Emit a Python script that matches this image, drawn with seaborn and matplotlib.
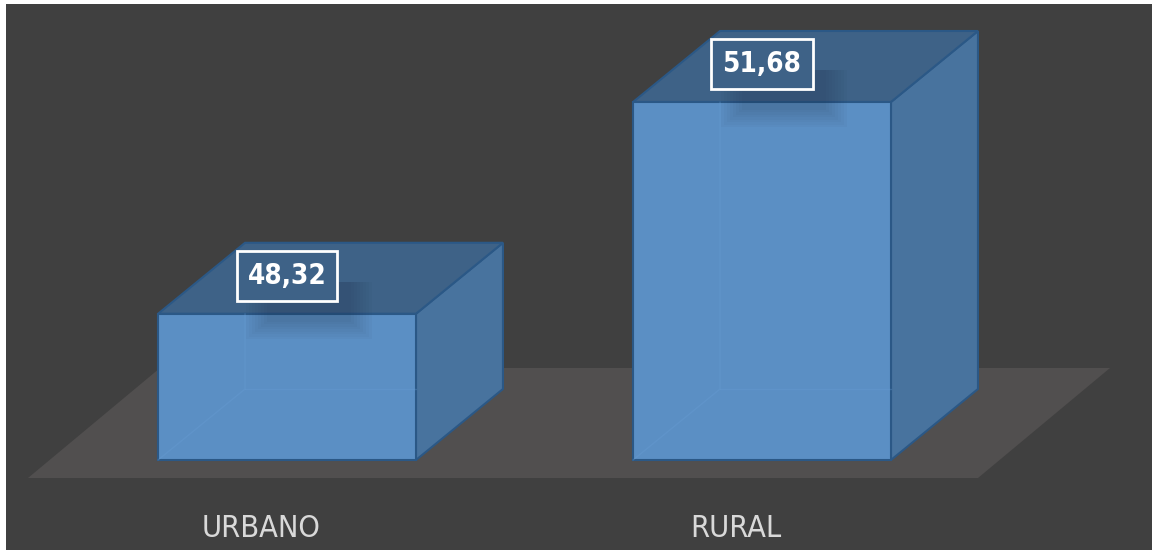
import matplotlib
matplotlib.use("Agg")
import matplotlib.pyplot as plt
import seaborn as sns
from matplotlib.patches import Polygon, Rectangle
from matplotlib.transforms import ScaledTranslation

# ---- data ----
categories = ["URBANO", "RURAL"]
values = [48.32, 51.68]
value_labels = ["48,32", "51,68"]
AXIS_MIN = 46.0

# ---- style ----
BG = "#404040"
FLOOR = "#514f4f"
FRONT = "#5b8fc4"
SIDE = "#48739e"
TOP = "#3e6287"
EDGE = "#2b5886"
TICKC = "#d9d9d9"

sns.set_theme(style="white")
plt.rcParams['font.family'] = ['DejaVu Sans']
plt.rcParams['font.stretch'] = 'condensed'

W, H, DPI = 1152, 550, 100
fig = plt.figure(figsize=(W / DPI, H / DPI), dpi=DPI, facecolor="white")
fig.add_artist(Rectangle((6 / W, 0), 1 - 6 / W, 1 - 4 / H, transform=fig.transFigure,
                         facecolor=BG, edgecolor="none", zorder=0))

ax = fig.add_axes([0, 72 / H, 1, 478 / H])
ax.patch.set_visible(False)

heights = [v - AXIS_MIN for v in values]
sns.barplot(x=categories, y=heights, width=0.543, color=FRONT, saturation=1,
            edgecolor=EDGE, linewidth=1.5, ax=ax)

PX_X = 475.0   # pixels per category step
PX_Y = 63.03   # pixels per value unit
ax.set_xlim(-287 / PX_X, (W - 287) / PX_X)
ax.set_ylim(-18 / PX_Y, 460 / PX_Y)

def px(dx, dy):
    return dx / PX_X, dy / PX_Y

# floor
ylo = ax.get_ylim()[0]
fx0, fx1 = -259 / PX_X, 691 / PX_X
fdx, fdy = px(132, 110)
ax.add_patch(Polygon([(fx0, ylo), (fx1, ylo), (fx1 + fdx, ylo + fdy), (fx0 + fdx, ylo + fdy)],
                     closed=True, facecolor=FLOOR, edgecolor="none", zorder=0.5, clip_on=False))

bars = [p for p in ax.patches if isinstance(p, Rectangle)]
bdx, bdy = px(87, 71)
for p in bars:
    x0, y0, w, h = p.get_x(), p.get_y(), p.get_width(), p.get_height()
    x1, y1 = x0 + w, y0 + h
    # right side face
    ax.add_patch(Polygon([(x1, y0), (x1 + bdx, y0 + bdy), (x1 + bdx, y1 + bdy), (x1, y1)],
                         closed=True, facecolor=SIDE, edgecolor=EDGE, linewidth=1.5, zorder=1.5))
    # top face
    ax.add_patch(Polygon([(x0, y1), (x1, y1), (x1 + bdx, y1 + bdy), (x0 + bdx, y1 + bdy)],
                         closed=True, facecolor=TOP, edgecolor=EDGE, linewidth=1.5, zorder=1.5))
    p.set_zorder(2)
    # faint hidden edges seen through the front
    ax.plot([x0, x0 + bdx, x0 + bdx], [y0, y0 + bdy, y1], color="#6a9fd6", lw=1.0, alpha=0.3, zorder=2.5)
    ax.plot([x0 + bdx, x1], [y0 + bdy, y0 + bdy], color="#6a9fd6", lw=1.0, alpha=0.3, zorder=2.5)
    # soft shadow under label
    cx = x0 + w / 2
    for k in range(8):
        sx = px(42 + k * 3, 0)[0]
        ax.add_patch(Rectangle((cx - sx + px(22, 0)[0], y1 - px(0, 8 + k * 2.5)[1]), 2 * sx,
                               px(0, 40 + k * 2.5)[1], facecolor="#1c2f44", edgecolor="none",
                               alpha=0.03, zorder=2.6))

for p, lab in zip(bars, value_labels):
    cx = p.get_x() + p.get_width() / 2
    top = p.get_y() + p.get_height()
    ax.annotate(lab, (cx, top), xytext=(0, 38 * 0.72), textcoords="offset points",
                ha="center", va="center", fontsize=20, fontweight="bold", color="white", zorder=5,
                bbox=dict(boxstyle="square,pad=0.4", facecolor=TOP, edgecolor="white", linewidth=2))

ax.tick_params(axis="x", length=0, pad=26, labelsize=22, labelcolor=TICKC)
ax.set_yticks([])
for lbl in ax.get_xticklabels():
    lbl.set_transform(lbl.get_transform() + ScaledTranslation(-26 / DPI, 0, fig.dpi_scale_trans))
for s in ax.spines.values():
    s.set_visible(False)
ax.set_xlabel("")
ax.set_ylabel("")

fig.savefig("out.png", dpi=DPI, facecolor=fig.get_facecolor())
